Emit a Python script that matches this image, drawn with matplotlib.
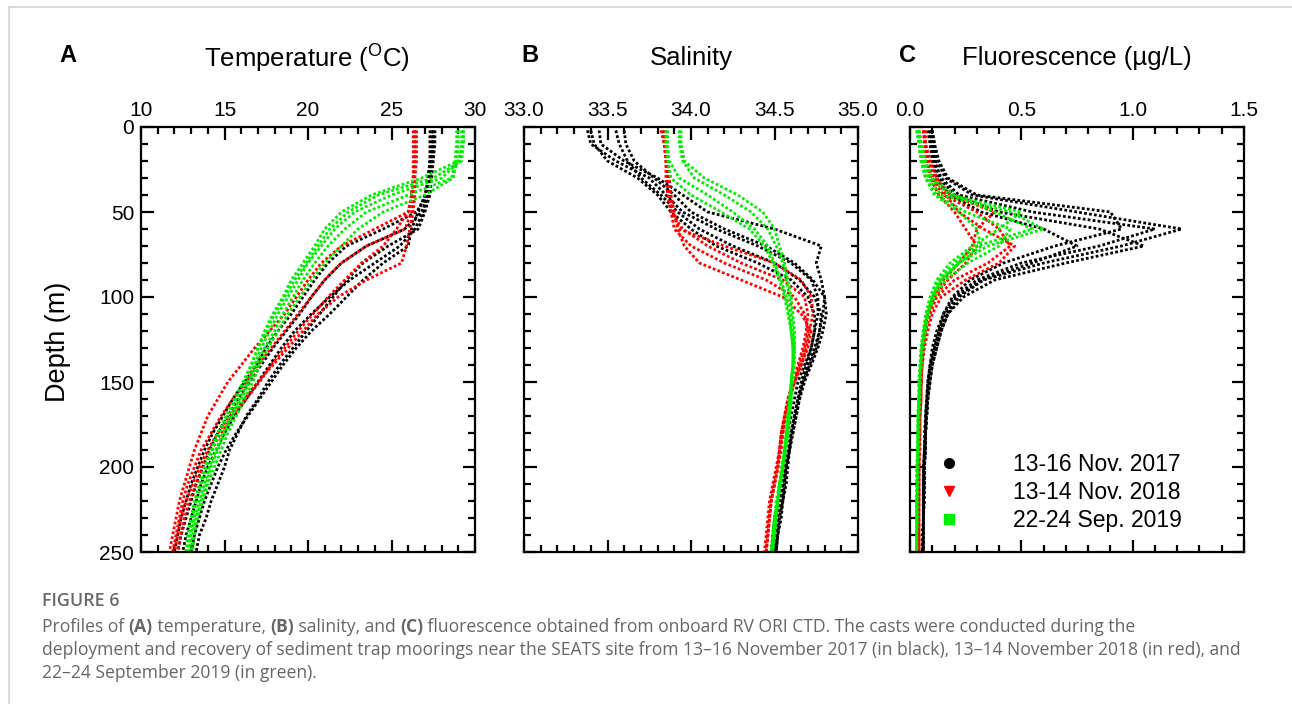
import matplotlib
matplotlib.use("Agg")
import matplotlib.pyplot as plt
from matplotlib.lines import Line2D
from matplotlib.ticker import MultipleLocator, FormatStrFormatter
from matplotlib import font_manager as fm

plt.rcParams['font.family'] = ['Liberation Sans', 'DejaVu Sans']
plt.rcParams['mathtext.fontset'] = 'custom'
plt.rcParams['mathtext.rm'] = 'Liberation Sans'

# ---------------- data ----------------
DEPTH = [2, 10, 20, 30, 40, 50, 60, 70, 80, 90, 100, 110, 120, 130, 140,
         150, 160, 170, 180, 190, 200, 210, 220, 230, 240, 250]

LABELS = ["13-16 Nov. 2017", "13-14 Nov. 2018", "22-24 Sep. 2019"]

# Temperature casts (deg C)
TEMP_2017 = [
    [27.5, 27.5, 27.4, 27.3, 27.1, 26.5, 24.5, 22.3, 21.2, 20.4, 19.7, 19.0, 18.2, 17.5, 16.9, 16.2, 15.5, 14.9, 14.3, 13.8, 13.4, 13.0, 12.7, 12.4, 12.2, 12.0],
    [27.6, 27.6, 27.5, 27.4, 27.3, 27.0, 26.6, 24.8, 23.3, 22.3, 21.5, 20.7, 19.9, 19.1, 18.3, 17.6, 17.0, 16.3, 15.8, 15.3, 15.0, 14.6, 14.2, 13.9, 13.5, 13.3],
    [27.4, 27.4, 27.3, 27.2, 27.1, 26.9, 26.4, 25.5, 24.0, 22.5, 21.3, 20.2, 19.2, 18.4, 17.7, 17.0, 16.3, 15.6, 15.0, 14.5, 14.0, 13.6, 13.3, 13.0, 12.7, 12.5],
    [27.5, 27.5, 27.4, 27.3, 27.2, 26.8, 25.8, 23.5, 22.0, 21.0, 20.2, 19.5, 18.7, 17.9, 17.2, 16.5, 15.8, 15.2, 14.6, 14.1, 13.7, 13.3, 13.0, 12.7, 12.4, 12.2],
    [27.3, 27.3, 27.3, 27.2, 27.0, 26.6, 26.2, 26.0, 24.5, 23.3, 22.3, 21.3, 20.2, 19.3, 18.5, 17.8, 17.1, 16.4, 15.7, 15.1, 14.6, 14.2, 13.8, 13.5, 13.2, 13.0],
]
TEMP_2018 = [
    [26.4, 26.4, 26.4, 26.3, 26.2, 26.0, 24.0, 22.0, 20.8, 20.0, 19.3, 18.6, 17.7, 16.8, 16.0, 15.2, 14.6, 14.0, 13.6, 13.2, 12.9, 12.6, 12.3, 12.1, 11.9, 11.7],
    [26.4, 26.4, 26.4, 26.3, 26.3, 26.2, 25.8, 23.5, 22.0, 21.0, 20.2, 19.4, 18.6, 17.8, 17.0, 16.3, 15.5, 14.8, 14.2, 13.6, 13.2, 12.8, 12.5, 12.3, 12.1, 11.9],
    [26.5, 26.5, 26.5, 26.4, 26.4, 26.3, 26.1, 25.9, 25.6, 23.5, 21.8, 20.6, 19.7, 18.8, 17.9, 17.0, 16.2, 15.3, 14.6, 14.0, 13.5, 13.1, 12.7, 12.4, 12.2, 12.0],
    [26.3, 26.3, 26.3, 26.3, 26.2, 26.0, 25.3, 24.5, 23.2, 22.2, 21.2, 20.3, 19.4, 18.6, 17.8, 17.1, 16.3, 15.5, 14.8, 14.2, 13.7, 13.3, 12.9, 12.6, 12.4, 12.2],
]
TEMP_2019 = [
    [29.3, 29.3, 29.0, 26.8, 23.8, 22.0, 21.0, 20.4, 19.7, 19.0, 18.5, 17.9, 17.4, 17.0, 16.6, 16.1, 15.6, 15.1, 14.6, 14.2, 13.8, 13.5, 13.2, 13.0, 12.8, 12.7],
    [29.2, 29.2, 29.1, 28.0, 25.0, 22.8, 21.6, 20.8, 20.0, 19.4, 18.8, 18.2, 17.7, 17.2, 16.8, 16.4, 15.9, 15.4, 14.9, 14.5, 14.1, 13.8, 13.5, 13.2, 13.0, 12.9],
    [29.0, 29.0, 28.9, 28.7, 27.0, 24.5, 23.0, 22.0, 21.0, 20.2, 19.5, 18.8, 18.2, 17.6, 17.1, 16.7, 16.2, 15.7, 15.2, 14.8, 14.4, 14.0, 13.7, 13.4, 13.2, 13.1],
    [28.9, 28.9, 28.8, 28.6, 26.0, 23.5, 22.2, 21.2, 20.4, 19.7, 19.1, 18.5, 18.0, 17.4, 16.9, 16.5, 16.0, 15.5, 15.0, 14.6, 14.2, 13.9, 13.6, 13.3, 13.1, 13.0],
    [29.3, 29.3, 29.2, 27.5, 24.2, 22.4, 21.3, 20.6, 19.9, 19.2, 18.6, 18.0, 17.5, 17.0, 16.6, 16.2, 15.7, 15.2, 14.7, 14.3, 13.9, 13.6, 13.3, 13.1, 12.9, 12.8],
]

# Salinity casts
SAL_2017 = [
    [33.38, 33.40, 33.55, 33.75, 33.85, 33.95, 34.15, 34.40, 34.60, 34.72, 34.76, 34.76, 34.74, 34.72, 34.69, 34.66, 34.64, 34.62, 34.60, 34.58, 34.56, 34.55, 34.53, 34.52, 34.50, 34.49],
    [33.45, 33.46, 33.60, 33.80, 33.95, 34.10, 34.50, 34.78, 34.75, 34.78, 34.80, 34.79, 34.77, 34.74, 34.70, 34.67, 34.65, 34.63, 34.61, 34.59, 34.57, 34.55, 34.54, 34.52, 34.51, 34.50],
    [33.55, 33.57, 33.62, 33.70, 33.82, 33.92, 34.05, 34.25, 34.50, 34.65, 34.74, 34.78, 34.77, 34.75, 34.71, 34.67, 34.64, 34.62, 34.60, 34.59, 34.57, 34.56, 34.55, 34.53, 34.52, 34.51],
    [33.60, 33.61, 33.66, 33.78, 33.90, 34.00, 34.20, 34.45, 34.62, 34.73, 34.80, 34.81, 34.79, 34.76, 34.72, 34.68, 34.65, 34.63, 34.61, 34.59, 34.58, 34.57, 34.55, 34.54, 34.52, 34.51],
    [33.40, 33.42, 33.50, 33.68, 33.80, 33.88, 34.00, 34.15, 34.40, 34.60, 34.70, 34.74, 34.74, 34.72, 34.68, 34.64, 34.62, 34.60, 34.58, 34.56, 34.55, 34.53, 34.52, 34.50, 34.49, 34.48],
]
SAL_2018 = [
    [33.82, 33.84, 33.85, 33.85, 33.86, 33.88, 33.95, 34.10, 34.30, 34.55, 34.68, 34.70, 34.69, 34.67, 34.64, 34.61, 34.58, 34.56, 34.54, 34.53, 34.52, 34.50, 34.48, 34.47, 34.46, 34.45],
    [33.84, 33.85, 33.86, 33.86, 33.87, 33.88, 33.90, 34.00, 34.20, 34.45, 34.62, 34.68, 34.70, 34.68, 34.65, 34.62, 34.59, 34.56, 34.54, 34.53, 34.51, 34.49, 34.47, 34.46, 34.45, 34.44],
    [33.85, 33.85, 33.86, 33.87, 33.88, 33.90, 33.92, 33.96, 34.05, 34.30, 34.55, 34.66, 34.72, 34.70, 34.66, 34.62, 34.58, 34.56, 34.55, 34.54, 34.52, 34.50, 34.48, 34.47, 34.46, 34.45],
    [33.83, 33.84, 33.85, 33.86, 33.87, 33.89, 33.93, 34.20, 34.50, 34.66, 34.72, 34.73, 34.71, 34.69, 34.66, 34.62, 34.59, 34.57, 34.55, 34.53, 34.52, 34.50, 34.48, 34.47, 34.46, 34.45],
]
SAL_2019 = [
    [33.86, 33.86, 33.87, 33.93, 34.10, 34.25, 34.38, 34.46, 34.50, 34.54, 34.57, 34.59, 34.60, 34.61, 34.61, 34.60, 34.59, 34.58, 34.57, 34.56, 34.55, 34.53, 34.52, 34.50, 34.49, 34.48],
    [33.94, 33.94, 33.96, 34.08, 34.28, 34.43, 34.50, 34.53, 34.56, 34.58, 34.60, 34.61, 34.62, 34.62, 34.62, 34.61, 34.60, 34.59, 34.58, 34.57, 34.55, 34.54, 34.52, 34.51, 34.50, 34.49],
    [33.85, 33.85, 33.86, 33.88, 34.00, 34.18, 34.35, 34.44, 34.49, 34.53, 34.56, 34.58, 34.60, 34.61, 34.61, 34.60, 34.59, 34.58, 34.57, 34.56, 34.54, 34.53, 34.51, 34.50, 34.49, 34.48],
    [33.93, 33.93, 33.95, 34.02, 34.20, 34.36, 34.46, 34.51, 34.55, 34.57, 34.59, 34.60, 34.61, 34.62, 34.61, 34.60, 34.60, 34.59, 34.58, 34.56, 34.55, 34.53, 34.52, 34.51, 34.50, 34.49],
]

# Fluorescence casts (ug/L)
FLUO_2017 = [
    [0.09, 0.10, 0.11, 0.14, 0.22, 0.55, 1.10, 0.85, 0.50, 0.30, 0.20, 0.15, 0.13, 0.11, 0.09, 0.08, 0.075, 0.07, 0.065, 0.065, 0.06, 0.06, 0.06, 0.06, 0.06, 0.06],
    [0.10, 0.11, 0.12, 0.16, 0.28, 0.75, 1.22, 0.95, 0.60, 0.33, 0.22, 0.17, 0.14, 0.12, 0.10, 0.09, 0.08, 0.075, 0.07, 0.07, 0.065, 0.065, 0.06, 0.06, 0.06, 0.06],
    [0.09, 0.10, 0.11, 0.13, 0.20, 0.40, 0.85, 1.05, 0.70, 0.38, 0.24, 0.17, 0.14, 0.12, 0.10, 0.09, 0.08, 0.075, 0.07, 0.07, 0.065, 0.065, 0.065, 0.06, 0.06, 0.06],
    [0.08, 0.09, 0.10, 0.12, 0.18, 0.32, 0.60, 0.75, 0.55, 0.32, 0.21, 0.16, 0.13, 0.11, 0.095, 0.085, 0.08, 0.075, 0.07, 0.065, 0.065, 0.06, 0.06, 0.06, 0.06, 0.055],
    [0.10, 0.11, 0.13, 0.17, 0.30, 0.90, 0.95, 0.65, 0.42, 0.27, 0.19, 0.15, 0.12, 0.10, 0.09, 0.08, 0.075, 0.07, 0.07, 0.065, 0.06, 0.06, 0.06, 0.06, 0.055, 0.055],
]
FLUO_2018 = [
    [0.06, 0.07, 0.08, 0.10, 0.15, 0.30, 0.40, 0.45, 0.35, 0.20, 0.12, 0.09, 0.07, 0.06, 0.055, 0.05, 0.05, 0.045, 0.045, 0.04, 0.04, 0.04, 0.04, 0.04, 0.04, 0.04],
    [0.06, 0.07, 0.08, 0.11, 0.18, 0.38, 0.30, 0.28, 0.22, 0.15, 0.10, 0.08, 0.065, 0.055, 0.05, 0.05, 0.045, 0.045, 0.04, 0.04, 0.04, 0.04, 0.04, 0.04, 0.04, 0.04],
    [0.07, 0.07, 0.09, 0.12, 0.16, 0.22, 0.33, 0.47, 0.40, 0.25, 0.14, 0.10, 0.08, 0.065, 0.055, 0.05, 0.05, 0.045, 0.045, 0.045, 0.04, 0.04, 0.04, 0.04, 0.04, 0.04],
    [0.06, 0.065, 0.075, 0.09, 0.13, 0.20, 0.25, 0.30, 0.25, 0.17, 0.11, 0.08, 0.065, 0.055, 0.05, 0.045, 0.045, 0.04, 0.04, 0.04, 0.04, 0.04, 0.04, 0.035, 0.035, 0.035],
]
FLUO_2019 = [
    [0.04, 0.05, 0.06, 0.08, 0.14, 0.45, 0.60, 0.35, 0.22, 0.14, 0.10, 0.08, 0.065, 0.055, 0.05, 0.045, 0.04, 0.04, 0.035, 0.035, 0.035, 0.035, 0.03, 0.03, 0.03, 0.03],
    [0.04, 0.05, 0.06, 0.09, 0.18, 0.50, 0.40, 0.28, 0.18, 0.12, 0.09, 0.07, 0.06, 0.05, 0.045, 0.04, 0.04, 0.035, 0.035, 0.035, 0.03, 0.03, 0.03, 0.03, 0.03, 0.03],
    [0.03, 0.04, 0.05, 0.07, 0.12, 0.25, 0.45, 0.40, 0.26, 0.16, 0.11, 0.08, 0.065, 0.055, 0.05, 0.045, 0.04, 0.04, 0.04, 0.035, 0.035, 0.035, 0.03, 0.03, 0.03, 0.03],
    [0.04, 0.05, 0.07, 0.10, 0.20, 0.38, 0.55, 0.30, 0.20, 0.13, 0.10, 0.08, 0.07, 0.06, 0.05, 0.045, 0.045, 0.04, 0.04, 0.04, 0.035, 0.035, 0.035, 0.035, 0.03, 0.03],
    [0.03, 0.04, 0.05, 0.07, 0.11, 0.22, 0.30, 0.32, 0.22, 0.14, 0.10, 0.075, 0.06, 0.05, 0.045, 0.04, 0.04, 0.035, 0.035, 0.035, 0.03, 0.03, 0.03, 0.03, 0.03, 0.03],
]

COLORS = ["#000000", "#ff0000", "#00ee00"]
MARKERS = ["o", "v", "s"]

# ---------------- figure ----------------
W, H = 1292, 704
fig = plt.figure(figsize=(W / 100, H / 100), dpi=100)
fig.patch.set_facecolor("white")


def px_axes(left, top, right, bottom):
    return fig.add_axes([left / W, 1 - bottom / H, (right - left) / W, (bottom - top) / H])


axA = px_axes(141, 127, 475, 552)
axB = px_axes(524, 127, 858, 552)
axC = px_axes(910, 127, 1244, 552)


def setup(ax, xlim, xmajor, xminor, fmt, ylabels):
    ax.set_xlim(*xlim)
    ax.set_ylim(250, 0)
    ax.xaxis.set_major_locator(MultipleLocator(xmajor))
    ax.xaxis.set_minor_locator(MultipleLocator(xminor))
    ax.xaxis.set_major_formatter(FormatStrFormatter(fmt))
    ax.yaxis.set_major_locator(MultipleLocator(50))
    ax.yaxis.set_minor_locator(MultipleLocator(10))
    ax.tick_params(which="both", direction="in", top=True, bottom=True, left=True,
                   right=True, labeltop=True, labelbottom=False, labelleft=ylabels,
                   labelright=False, width=1.6, colors="black")
    ax.tick_params(which="major", length=9, labelsize=15, pad=5)
    ax.tick_params(which="minor", length=5)
    for s in ax.spines.values():
        s.set_linewidth(1.6)


setup(axA, (10, 30), 5, 1, "%d", True)
setup(axB, (33.0, 35.0), 0.5, 0.1, "%.1f", False)
setup(axC, (0.0, 1.5), 0.5, 0.1, "%.1f", False)

LS = (0, (1, 0.8))
LW = 2.0


def draw(ax, groups):
    for casts, c in zip(groups, COLORS):
        for cast in casts:
            ax.plot(cast, DEPTH, color=c, lw=LW, ls=LS)


draw(axA, [TEMP_2017, TEMP_2018, TEMP_2019])
draw(axB, [SAL_2017, SAL_2018, SAL_2019])
draw(axC, [FLUO_2017, FLUO_2018, FLUO_2019])

handles = [Line2D([], [], ls="none", marker=m, color=c, markersize=7)
           for m, c in zip(MARKERS, COLORS)]
axC.legend(handles, LABELS, loc="center", bbox_to_anchor=(0.43, 0.14),
           frameon=False, fontsize=16.5, handletextpad=1.8, labelspacing=0.2,
           borderpad=0, handlelength=2)

# titles and panel letters
fig.text(307 / W, 1 - 58 / H, "Temperature ($^{\\mathrm{O}}$C)", fontsize=18.5,
         ha="center", va="center")
fig.text(691 / W, 1 - 58 / H, "Salinity", fontsize=18.5, ha="center", va="center")
fig.text(1077 / W, 1 - 58 / H, "Fluorescence (\u00b5g/L)", fontsize=18.5,
         ha="center", va="center")
for x, lab in [(68, "A"), (530, "B"), (907, "C")]:
    fig.text(x / W, 1 - 56 / H, lab, fontsize=17, fontweight="bold", ha="center",
             va="center")
fig.text(58 / W, 1 - 342 / H, "Depth (m)", fontsize=19.5, rotation=90,
         ha="center", va="center")

# frame lines of the page
fig.add_artist(Line2D([9 / W, 1], [1 - 7 / H, 1 - 7 / H], color="#d4d4d4", lw=1.2))
fig.add_artist(Line2D([9 / W, 9 / W], [0, 1 - 7 / H], color="#d4d4d4", lw=1.2))

# caption
def has_font(name):
    try:
        fm.findfont(fm.FontProperties(family=name), fallback_to_default=False)
        return True
    except Exception:
        return False


CAP_FAMILY = "Open Sans" if has_font("Open Sans") else "DejaVu Sans"
CAP_COLOR = "#666666"
renderer = fig.canvas.get_renderer()

line1 = [("Profiles of ", "normal"), ("(A)", "bold"), (" temperature, ", "normal"),
         ("(B)", "bold"), (" salinity, and ", "normal"), ("(C)", "bold"),
         (" fluorescence obtained from onboard RV ORI CTD. The casts were conducted during the", "normal")]
line2 = [("deployment and recovery of sediment trap moorings near the SEATS site from 13\u201316 November 2017 (in black), 13\u201314 November 2018 (in red), and", "normal")]
line3 = [("22\u201324 September 2019 (in green).", "normal")]

probe = fig.text(0, 0, line2[0][0], fontsize=12, family=CAP_FAMILY)
wprobe = probe.get_window_extent(renderer).width
probe.remove()
cap_size = 12 * (1235 - 42) / wprobe


def draw_segments(x_px, y_px, segments, size):
    x = x_px
    for txt, weight in segments:
        t = fig.text(x / W, 1 - y_px / H, txt, fontsize=size, fontweight=weight,
                     family=CAP_FAMILY, color=CAP_COLOR, ha="left", va="center")
        x += t.get_window_extent(renderer).width


fig.text(42 / W, 1 - 601 / H, "FIGURE 6", fontsize=cap_size * 1.02, fontweight="semibold",
         family=CAP_FAMILY, color="#6a6a6a", ha="left", va="center")
draw_segments(42, 627, line1, cap_size)
draw_segments(42, 650, line2, cap_size)
draw_segments(42, 673, line3, cap_size)

fig.savefig("out.png", dpi=100, facecolor="white")
